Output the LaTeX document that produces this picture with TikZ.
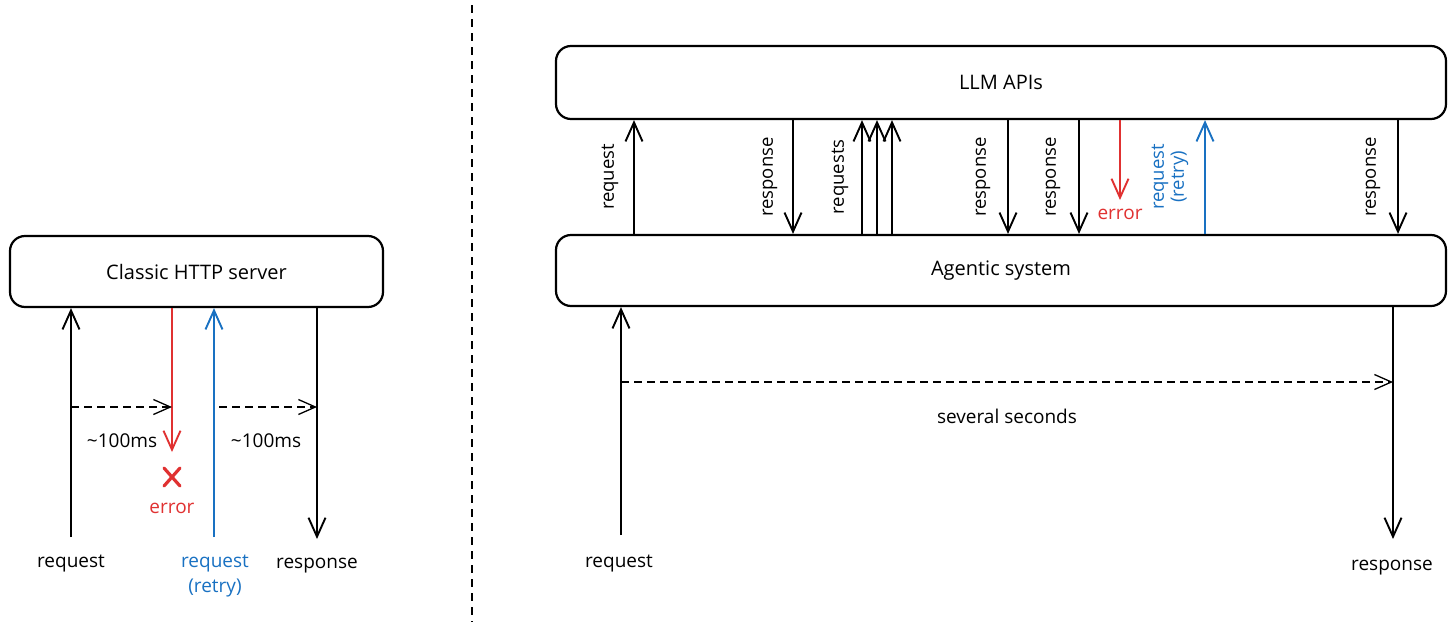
\documentclass[tikz,border=0pt]{standalone}
\usepackage{fontspec}
\setmainfont{Open Sans}
\usetikzlibrary{arrows.meta}
\definecolor{xred}{HTML}{E03131}
\definecolor{xblue}{HTML}{1971C2}
\begin{document}
\begin{tikzpicture}[x=1pt,y=-1pt,
  box/.style={draw,line width=2.2pt,rounded corners=15pt,inner sep=0pt},
  lbl/.style={font=\fontsize{19}{24}\selectfont,inner sep=1pt},
  blbl/.style={font=\fontsize{20}{24}\selectfont,inner sep=1pt},
  rlbl/.style={font=\fontsize{18.5}{20}\selectfont,inner sep=1pt,rotate=90},
  arr/.style={line width=2.4pt,-{Straight Barb[length=19pt,width=17pt,line width=1.9pt]}},
  darr/.style={line width=1.3pt,dash pattern=on 8pt off 5pt,-{Straight Barb[length=17pt,width=15pt,line width=1.3pt]}}]
\useasboundingbox (0,0) rectangle (1456,632);
% divider
\draw[line width=1.6pt,dash pattern=on 8pt off 6pt] (472,5) -- (472,622);
% left
\node[box,minimum width=373pt,minimum height=71pt] (http) at (196.5,271.5) {};
\node[blbl] (httpt) at (http.center) {Classic HTTP server};
\coordinate (la) at (71,537);
\coordinate (lr) at (172,452);
\coordinate (lb) at (214,537);
\coordinate (lc) at (317,539);
\draw[arr] (la) -- (la |- http.south);
\draw[arr,xred] (lr |- http.south) -- (lr);
\draw[arr,xblue] (lb) -- (lb |- http.south);
\draw[arr] (lc |- http.south) -- (lc);
\coordinate (d1) at (71,407);
\coordinate (d2) at (219,407);
\draw[darr] (d1) -- (d1 -| lr);
\draw[darr] (d2) -- (d2 -| lc);
\node[lbl] (t1) at (122,441) {\textasciitilde100ms};
\node[lbl] (t2) at (266,441) {\textasciitilde100ms};
\node (xmark) at (172,477) {};
\draw[xred,line width=3.2pt,line cap=round] (164,468) -- (180,486) (180,468) -- (164,486);
\node[lbl,text=xred] (errl) at (172,508) {error};
\node[lbl] (reql) at (71,564) {request};
\node[lbl,text=xblue,align=center] (retl) at (215,576) {request\\[1pt](retry)};
\node[lbl] (resl) at (317,566) {response};
% right
\node[box,minimum width=890pt,minimum height=73pt] (llm) at (1001,82.5) {};
\node[blbl] (llmt) at (llm.center) {LLM APIs};
\node[box,minimum width=890pt,minimum height=71pt] (agent) at (1001,270.5) {};
\node[blbl] (agentt) at (agent.center) {Agentic system};
\foreach \x/\n in {634/u1,862/u2,877/u3,892/u4}{
  \coordinate (\n) at (\x,0);
  \draw[arr] (agent.north -| \n) -- (llm.south -| \n);
}
\foreach \x/\n in {793/w1,1008/w2,1079/w3,1398/w4}{
  \coordinate (\n) at (\x,0);
  \draw[arr] (llm.south -| \n) -- (agent.north -| \n);
}
\coordinate (re) at (1120,200);
\draw[arr,xred] (llm.south -| re) -- (re);
\node[lbl,text=xred] (rerr) at (1120,214) {error};
\coordinate (rb) at (1205,0);
\draw[arr,xblue] (agent.north -| rb) -- (llm.south -| rb);
\node[rlbl] (r1) at (610,177) {request};
\node[rlbl] (r2) at (770,177) {response};
\node[rlbl] (r3) at (840,177) {requests};
\node[rlbl] (r4) at (983,177) {response};
\node[rlbl] (r5) at (1053,177) {response};
\node[rlbl,text=xblue,align=center] (r6) at (1170,177) {request\\[0pt](retry)};
\node[rlbl] (r7) at (1373,177) {response};
% bottom right
\coordinate (ba) at (621,535);
\coordinate (bc) at (1393,539);
\draw[arr] (ba) -- (ba |- agent.south);
\draw[arr] (bc |- agent.south) -- (bc);
\coordinate (bd) at (621,382);
\draw[darr] (bd) -- (bd -| bc);
\node[lbl] (sev) at (1007,416) {several seconds};
\node[lbl] (breq) at (619,564) {request};
\node[lbl] (bres) at (1392,568) {response};
\end{tikzpicture}
\end{document}
